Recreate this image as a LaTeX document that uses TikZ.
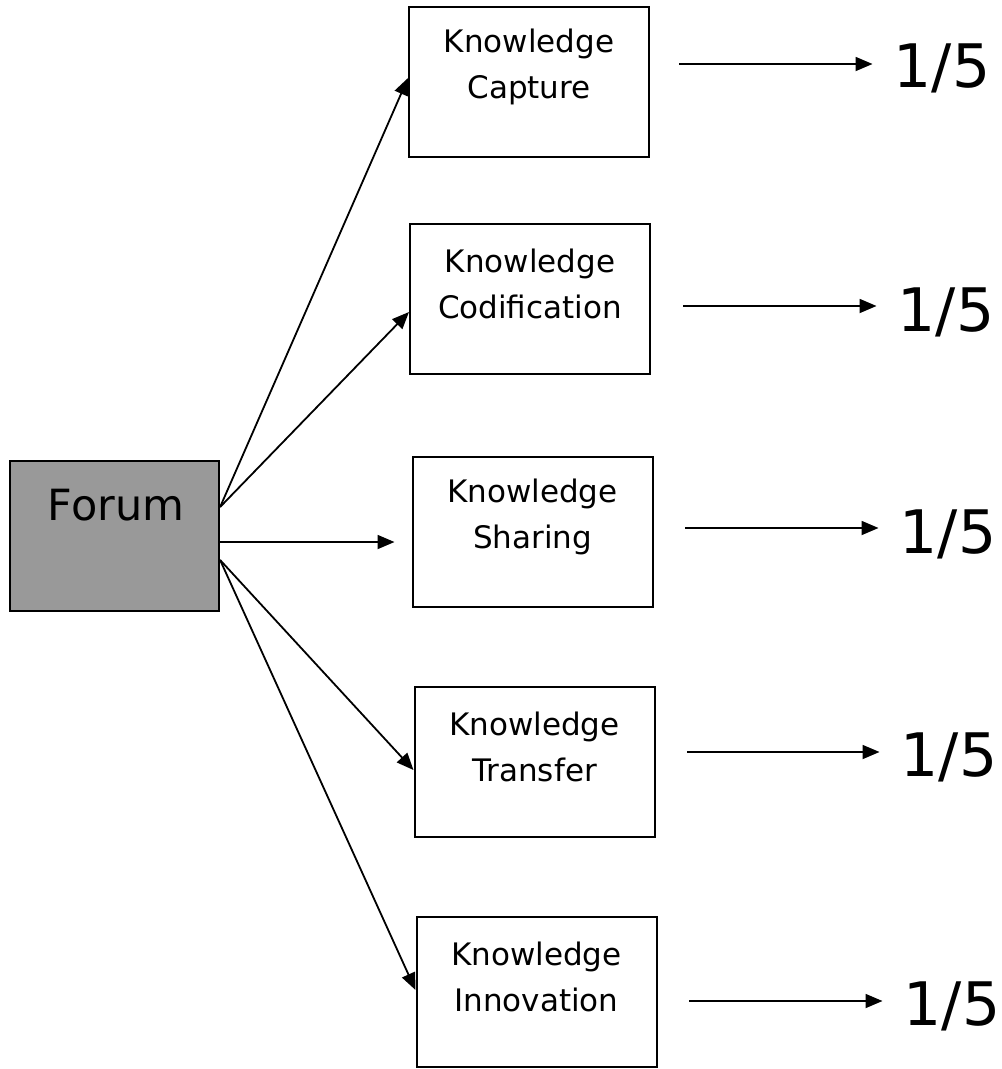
\documentclass[tikz,border=0pt]{standalone}
\usepackage{fontspec}
\setmainfont{DejaVu Sans}
\usetikzlibrary{arrows.meta,calc}
\definecolor{forumgray}{gray}{0.6}
\begin{document}
\begin{tikzpicture}[x=1pt,y=-1pt,
  kbox/.style={draw, line width=2pt, minimum width=240pt, minimum height=150pt, inner sep=0pt},
  ktext/.style={font=\fontsize{31}{46}\selectfont, align=center, inner sep=0pt},
  fracnode/.style={font=\fontsize{60}{72}\selectfont, inner sep=0pt, anchor=base},
  arr/.style={line width=1.8pt, -{Triangle[length=17pt,width=14pt]}}]
\useasboundingbox (0,0) rectangle (1002,1069);
% Forum
\node[draw, fill=forumgray, line width=2.2pt, minimum width=209pt, minimum height=150pt, inner sep=0pt] (forum) at (114.5,536) {};
\node[font=\fontsize{43}{50}\selectfont, anchor=base, inner sep=0pt] (forumt) at (116,520) {Forum};
% boxes
\node[kbox] (cap) at (529,82) {};
\node[kbox] (cod) at (530,299) {};
\node[kbox] (sha) at (532.5,532) {};
\node[kbox] (tra) at (534.5,762) {};
\node[kbox] (inn) at (536.5,991.5) {};
\node[ktext] (capt) at ($(cap.center)+(0,-15)$) {Knowledge\\Capture};
\node[ktext] (codt) at ($(cod.center)+(0,-15)$) {Knowledge\\Codification};
\node[ktext] (shat) at ($(sha.center)+(0,-15)$) {Knowledge\\Sharing};
\node[ktext] (trat) at ($(tra.center)+(0,-15)$) {Knowledge\\Transfer};
\node[ktext] (innt) at ($(inn.center)+(0,-15)$) {Knowledge\\Innovation};
% fractions
\node[fracnode] (f1) at (942,87) {1/5};
\node[fracnode] (f2) at (946,331) {1/5};
\node[fracnode] (f3) at (948,553) {1/5};
\node[fracnode] (f4) at (949,776) {1/5};
\node[fracnode] (f5) at (952,1025) {1/5};
% forum arrows
\coordinate (fu) at (forum.east |- 0,507);
\coordinate (fm) at (forum.east |- 0,542);
\coordinate (fl) at (forum.east |- 0,560);
\draw[arr] (fu) -- (cap.west |- 0,78);
\draw[arr] (fu) -- (cod.west |- 0,312);
\draw[arr] (fm) -- ($(sha.west |- fm)+(-17,0)$);
\draw[arr] (fl) -- (tra.west |- 0,770);
\draw[arr] (fl) -- (inn.west |- 0,990);
% right arrows
\coordinate (a1) at (679,64);
\coordinate (a2) at (683,306);
\coordinate (a3) at (685,528);
\coordinate (a4) at (687,752);
\coordinate (a5) at (689,1001);
\draw[arr, shorten >=21pt] (a1) -- (a1 -| f1.west);
\draw[arr, shorten >=21pt] (a2) -- (a2 -| f2.west);
\draw[arr, shorten >=21pt] (a3) -- (a3 -| f3.west);
\draw[arr, shorten >=21pt] (a4) -- (a4 -| f4.west);
\draw[arr, shorten >=21pt] (a5) -- (a5 -| f5.west);
\end{tikzpicture}
\end{document}
